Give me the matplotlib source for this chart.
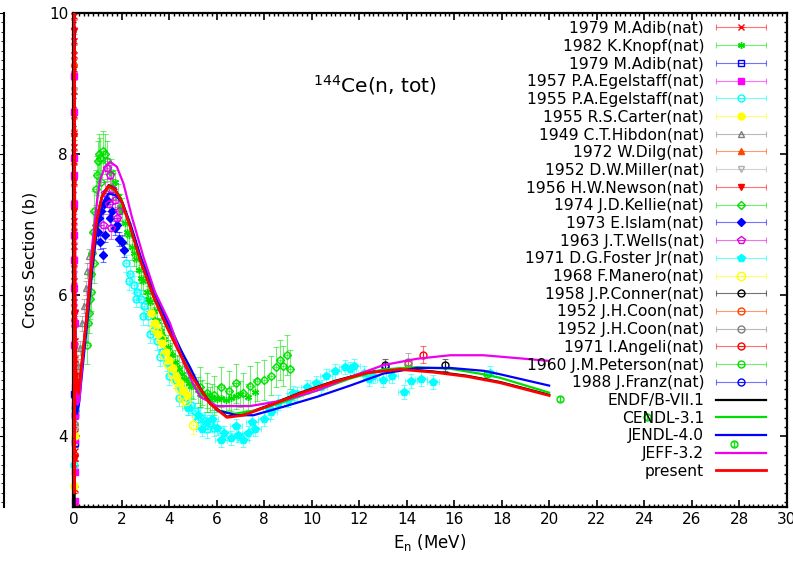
import numpy as np
import matplotlib
matplotlib.use("Agg")
import matplotlib.pyplot as plt
from matplotlib.ticker import MultipleLocator
from matplotlib.container import ErrorbarContainer
from matplotlib.legend_handler import HandlerErrorbar

plt.rcParams['font.family'] = ['DejaVu Sans']

# ---- evaluated curves (E in MeV, cross section in b) ----
E_endf = [0.0, 0.004, 0.008, 0.015, 0.03, 0.06, 0.11, 0.18, 0.32, 0.53, 0.74, 0.95, 1.17, 1.45, 1.73,
          2.01, 2.36, 2.78, 3.34, 3.90, 4.46, 4.88, 5.73, 6.43, 7.13, 8.11, 9.52, 10.92, 12.32, 13.73,
          15.13, 16.53, 17.94, 20.0]
xs_endf = [10.3, 3.0, 9.8, 4.2, 6.0, 5.0, 4.7, 4.62, 5.04, 5.70, 6.46, 7.07, 7.40, 7.56, 7.50,
           7.33, 6.98, 6.51, 5.99, 5.56, 5.18, 4.90, 4.47, 4.28, 4.31, 4.43, 4.62, 4.78, 4.91, 4.96,
           4.92, 4.86, 4.77, 4.59]

E_cendl = [0.0, 0.01, 0.03, 0.07, 0.13, 0.2, 0.33, 0.53, 0.74, 0.95, 1.17, 1.45, 1.73, 2.01, 2.36,
           2.78, 3.34, 4.04, 4.88, 5.4, 6.01, 6.71, 7.69, 8.81, 10.22, 11.62, 13.02, 14.43, 15.83,
           17.23, 17.94, 20.0]
xs_cendl = [9.6, 3.8, 5.4, 4.8, 4.6, 4.63, 5.05, 5.72, 6.47, 7.07, 7.40, 7.53, 7.48, 7.33, 6.99,
            6.53, 6.01, 5.57, 4.93, 4.62, 4.37, 4.32, 4.37, 4.49, 4.65, 4.82, 4.95, 4.98, 4.96,
            4.88, 4.83, 4.62]

E_jendl = [0.0, 0.01, 0.03, 0.06, 0.11, 0.2, 0.35, 0.55, 0.76, 0.97, 1.2, 1.45, 1.75, 2.05, 2.4,
           2.8, 3.36, 3.95, 4.5, 4.88, 5.4, 6.01, 6.85, 7.55, 8.81, 10.22, 11.62, 13.02, 14.43,
           15.83, 17.23, 17.94, 20.0]
xs_jendl = [9.8, 4.0, 5.2, 4.6, 4.32, 4.45, 4.95, 5.60, 6.35, 6.95, 7.30, 7.44, 7.42, 7.30, 6.98,
            6.55, 6.05, 5.60, 5.22, 4.98, 4.62, 4.37, 4.30, 4.30, 4.42, 4.56, 4.72, 4.89, 4.97,
            4.97, 4.93, 4.88, 4.72]

E_jeff = [0.0, 0.01, 0.03, 0.07, 0.14, 0.22, 0.36, 0.55, 0.76, 0.97, 1.09, 1.3, 1.52, 1.8, 2.08,
          2.43, 2.92, 3.4, 4.04, 4.6, 5.0, 5.31, 6.01, 7.41, 8.81, 10.22, 11.62, 13.02, 14.43,
          15.83, 17.23, 17.94, 20.0]
xs_jeff = [10.1, 3.5, 8.0, 5.0, 4.45, 4.5, 5.1, 5.85, 6.7, 7.35, 7.63, 7.82, 7.89, 7.82, 7.58,
           7.11, 6.54, 6.05, 5.60, 5.05, 4.75, 4.56, 4.43, 4.43, 4.51, 4.65, 4.84, 5.01, 5.10,
           5.15, 5.15, 5.13, 5.07]

E_present = [0.0, 0.005, 0.01, 0.02, 0.04, 0.08, 0.12, 0.18, 0.32, 0.53, 0.74, 0.95, 1.17, 1.45,
             1.73, 2.01, 2.36, 2.78, 3.34, 3.90, 4.46, 4.88, 5.73, 6.43, 7.13, 8.11, 9.52, 10.92,
             12.32, 13.73, 15.13, 16.53, 17.94, 20.0]
xs_present = [10.2, 3.2, 9.5, 6.8, 5.6, 4.95, 4.7, 4.61, 5.03, 5.69, 6.45, 7.06, 7.39, 7.55,
              7.49, 7.32, 6.97, 6.50, 5.98, 5.55, 5.17, 4.89, 4.46, 4.27, 4.30, 4.42, 4.61, 4.77,
              4.90, 4.95, 4.91, 4.85, 4.76, 4.58]

# ---- experimental data (EXFOR, natural Ce) ----
adib79a_E = [0.001, 0.002, 0.003, 0.004, 0.005, 0.006, 0.007, 0.008, 0.009, 0.010, 0.011, 0.012,
             0.013, 0.014, 0.015, 0.016, 0.018, 0.020, 0.022, 0.024, 0.026, 0.028, 0.030, 0.033,
             0.002, 0.005, 0.009, 0.013, 0.017, 0.021, 0.025, 0.029]
adib79a_xs = [9.95, 9.6, 9.2, 8.9, 8.55, 8.3, 7.9, 7.6, 7.3, 7.05, 6.7, 6.45, 6.2, 5.9, 5.6, 5.35,
              5.1, 4.85, 4.55, 4.3, 4.05, 3.8, 3.55, 3.25, 9.4, 8.1, 6.9, 5.7, 4.65, 4.15, 3.7, 3.05]

knopf82_E = [1.55, 1.7, 1.85, 2.0, 2.15, 2.3, 2.45, 2.6, 2.75, 2.9, 3.05, 3.2, 3.35, 3.5, 3.65,
             3.8, 3.95, 4.1, 4.25, 4.4, 4.55, 4.7, 4.85, 5.0, 5.2, 5.4, 5.6, 5.8, 6.0, 6.2, 6.4,
             6.6, 6.8, 7.0, 7.3, 7.6, 1.62, 1.92, 2.22, 2.52, 2.82, 3.12, 3.42, 3.72, 4.02, 4.32,
             4.62, 4.92, 5.3, 5.7]
knopf82_xs = [7.75, 7.6, 7.4, 7.2, 7.02, 6.85, 6.68, 6.52, 6.36, 6.2, 6.05, 5.9, 5.77, 5.63, 5.5,
              5.38, 5.26, 5.15, 5.05, 4.96, 4.88, 4.81, 4.76, 4.71, 4.66, 4.62, 4.58, 4.56, 4.53,
              4.55, 4.51, 4.54, 4.57, 4.6, 4.56, 4.63, 7.55, 7.25, 6.9, 6.6, 6.25, 5.95, 5.65,
              5.42, 5.18, 4.98, 4.82, 4.72, 4.6, 4.52]

adib79b_E = [0.012, 0.021, 0.029]
adib79b_xs = [4.6, 4.3, 3.9]

egel57_E = [0.002, 0.004, 0.006, 0.008, 0.010, 0.012, 0.015, 0.018, 0.021, 0.025, 0.028, 0.032,
            0.003, 0.009, 0.016, 0.023]
egel57_xs = [8.6, 7.95, 7.3, 6.85, 6.5, 6.1, 5.3, 4.7, 4.3, 3.95, 3.5, 3.08, 9.1, 7.7, 5.6, 4.45]

egel55_E = [0.008, 0.02, 2.2, 2.35, 2.5, 2.65, 2.8, 2.95, 3.1, 3.3, 3.5, 3.7, 3.9, 4.1, 4.3, 4.5,
            4.7, 4.9, 5.1, 5.3, 5.5, 5.7, 5.9, 2.3, 2.6, 2.9, 3.2, 3.6, 4.0, 4.4, 4.8, 5.2, 5.6]
egel55_xs = [3.6, 4.4, 6.45, 6.3, 6.15, 6.05, 5.95, 5.85, 5.7, 5.5, 5.35, 5.2, 5.05, 4.92, 4.8,
             4.68, 4.56, 4.45, 4.36, 4.28, 4.22, 4.18, 4.12, 6.2, 5.95, 5.7, 5.45, 5.12, 4.85, 4.55,
             4.42, 4.25, 4.1]

carter55_E = [0.006, 0.018, 3.25, 3.4, 3.55, 3.7, 3.85, 4.0, 4.15, 4.3, 4.45, 4.6, 4.75]
carter55_xs = [3.3, 4.0, 5.75, 5.6, 5.45, 5.32, 5.2, 5.08, 4.97, 4.86, 4.75, 4.66, 4.58]

hibdon49_E = [0.02, 0.06, 0.12, 0.18, 0.25, 0.32, 0.40, 0.48, 0.56, 0.64]
hibdon49_xs = [4.2, 4.4, 4.8, 5.0, 5.25, 5.6, 5.85, 6.1, 6.35, 6.55]

dilg72_E = [0.004, 0.012, 0.02]
dilg72_xs = [9.3, 5.8, 4.9]

miller52_E = [0.005, 0.014, 0.024]
miller52_xs = [8.9, 6.3, 4.1]

newson56_E = [0.003, 0.007, 0.011, 0.017, 0.023, 0.027]
newson56_xs = [9.75, 8.25, 7.2, 5.75, 4.85, 3.7]

kellie74_E = [0.55, 0.6, 0.65, 0.7, 0.75, 0.8, 0.85, 0.9, 0.95, 1.0, 1.05, 1.1, 1.2, 1.3, 1.4,
              5.3, 5.6, 5.9, 6.2, 6.5, 6.8, 7.1, 7.4, 7.7, 8.0, 8.3, 8.5, 8.65, 8.8, 8.95, 9.1,
              0.62, 0.72, 0.82, 0.92, 1.15]
kellie74_xs = [5.3, 5.6, 5.95, 6.3, 6.6, 6.9, 7.2, 7.5, 7.7, 7.9, 8.0, 7.95, 8.05, 8.0, 7.9,
               4.7, 4.62, 4.58, 4.7, 4.65, 4.75, 4.62, 4.72, 4.78, 4.8, 4.86, 4.98, 5.08, 5.0,
               5.15, 4.95, 5.75, 6.05, 6.45, 7.0, 7.6]

islam73_E = [1.0, 1.05, 1.1, 1.15, 1.2, 1.25, 1.3, 1.4, 1.5, 1.6, 1.7, 1.8, 1.9, 2.0, 2.1]
islam73_xs = [6.9, 7.1, 6.75, 7.2, 6.57, 7.3, 6.85, 7.35, 7.1, 7.2, 6.95, 7.0, 6.8, 6.75, 6.64]

wells63_E = [1.2, 1.3, 1.4, 1.45, 1.5, 1.55, 1.6, 1.7, 1.8, 1.9]
wells63_xs = [7.0, 7.45, 7.8, 7.3, 7.7, 6.95, 7.5, 7.35, 7.1, 7.2]

foster71_E = [4.8, 5.2, 5.6, 6.0, 6.3, 6.6, 6.9, 7.1, 7.3, 7.6, 8.0, 8.3, 8.6, 9.0, 9.4, 9.8,
              10.2, 10.6, 11.0, 11.4, 11.8, 12.2, 12.6, 13.0, 13.4, 13.87, 14.2, 14.6, 15.1,
              17.5, 5.4, 5.8, 6.2, 6.8, 7.5, 8.2, 9.2, 10.4, 11.6, 12.4]
foster71_xs = [4.4, 4.3, 4.2, 4.12, 4.05, 3.98, 4.02, 3.95, 4.05, 4.1, 4.25, 4.35, 4.48, 4.52,
               4.6, 4.7, 4.76, 4.85, 4.92, 4.98, 5.0, 4.9, 4.85, 4.8, 4.86, 4.63, 4.78, 4.82,
               4.77, 4.9, 4.1, 4.25, 3.95, 4.15, 4.2, 4.4, 4.62, 4.7, 4.95, 4.82]

manero68_E = [3.35, 3.5, 3.65, 3.8, 3.95, 4.1, 4.25, 4.4, 4.55, 4.7, 5.02]
manero68_xs = [5.55, 5.5, 5.38, 5.15, 5.02, 4.9, 4.8, 4.68, 4.55, 4.5, 4.16]

conner58_E = [13.09, 15.62]
conner58_xs = [5.01, 5.01]

coon52a_E = [14.06]
coon52a_xs = [5.02]

coon52b_E = [14.06]
coon52b_xs = [5.06]

angeli71_E = [14.68]
angeli71_xs = [5.16]

peterson60_E = [17.37, 20.46, 24.1, 27.8]
peterson60_xs = [4.89, 4.53, 4.27, 3.89]

franz88_E = [13.1]
franz88_xs = [4.98]

fig = plt.figure(figsize=(7.93, 5.63), dpi=100)
ax = fig.add_axes([0.092, 0.0995, 0.9, 0.8775])

# piece of the neighbouring panel on the left edge
ax0 = fig.add_axes([-0.3, 0.0995, 0.3055, 0.8775])
for s in ['left', 'top', 'bottom']:
    ax0.spines[s].set_visible(False)
ax0.spines['right'].set_linewidth(1.5)
ax0.set_ylim(3, 10)
ax0.yaxis.tick_right()
ax0.yaxis.set_major_locator(MultipleLocator(2))
ax0.yaxis.set_minor_locator(MultipleLocator(2 / 15))
ax0.tick_params(axis='y', which='both', direction='in', labelright=False)
ax0.tick_params(axis='y', which='minor', length=2.5)
ax0.set_xticks([])


def exp_set(x, y, color, marker, label, dx, dy, mfc=None, ms=5):
    ax.errorbar(x, y, xerr=dx, yerr=dy, fmt='', marker=marker,
                linestyle='none', color=color,
                mfc=color if mfc is None else mfc, mec=color, ms=ms,
                ecolor=matplotlib.colors.to_rgba(color, 0.55), elinewidth=0.8,
                capsize=2, capthick=0.8, label=label, clip_on=False, zorder=2)


exp_set(adib79a_E, adib79a_xs, 'red', 'x', '1979 M.Adib(nat)', 0.0, 0.05)
exp_set(knopf82_E, knopf82_xs, '#00e000', (6, 2, 0), '1982 K.Knopf(nat)', 0.08, 0.18)
exp_set(adib79b_E, adib79b_xs, 'blue', 's', '1979 M.Adib(nat)', 0.0, 0.05, mfc='none')
exp_set(egel57_E, egel57_xs, 'magenta', 's', '1957 P.A.Egelstaff(nat)', 0.0, 0.05)
exp_set(egel55_E, egel55_xs, 'cyan', 'o', '1955 P.A.Egelstaff(nat)', 0.1, 0.12, mfc='none')
exp_set(carter55_E, carter55_xs, 'yellow', 'o', '1955 R.S.Carter(nat)', 0.1, 0.12)
exp_set(hibdon49_E, hibdon49_xs, 'gray', '^', '1949 C.T.Hibdon(nat)', 0.03, 0.1, mfc='none')
exp_set(dilg72_E, dilg72_xs, '#ff4500', '^', '1972 W.Dilg(nat)', 0.0, 0.05)
exp_set(miller52_E, miller52_xs, '#b0b0b0', 'v', '1952 D.W.Miller(nat)', 0.0, 0.05, mfc='none')
exp_set(newson56_E, newson56_xs, 'red', 'v', '1956 H.W.Newson(nat)', 0.0, 0.05)
exp_set(kellie74_E, kellie74_xs, '#00e000', 'D', '1974 J.D.Kellie(nat)', 0.1, 0.28, mfc='none', ms=4)
exp_set(islam73_E, islam73_xs, 'blue', 'D', '1973 E.Islam(nat)', 0.04, 0.1, ms=4)
exp_set(wells63_E, wells63_xs, '#e000e0', 'p', '1963 J.T.Wells(nat)', 0.05, 0.15, mfc='none', ms=6)
exp_set(foster71_E, foster71_xs, 'cyan', 'p', '1971 D.G.Foster Jr(nat)', 0.25, 0.1, ms=6)
exp_set(manero68_E, manero68_xs, 'yellow', 'o', '1968 F.Manero(nat)', 0.1, 0.12, mfc='none', ms=6)
exp_set(conner58_E, conner58_xs, 'black', 'o', '1958 J.P.Conner(nat)', 0.0, 0.08, mfc='none')
exp_set(coon52a_E, coon52a_xs, '#ff4500', 'o', '1952 J.H.Coon(nat)', 0.0, 0.08, mfc='none')
exp_set(coon52b_E, coon52b_xs, 'gray', 'o', '1952 J.H.Coon(nat)', 0.0, 0.12, mfc='none')
exp_set(angeli71_E, angeli71_xs, 'red', 'o', '1971 I.Angeli(nat)', 0.0, 0.12, mfc='none')
exp_set(peterson60_E, peterson60_xs, '#00e000', 'o', '1960 J.M.Peterson(nat)', 0.0, 0.03, mfc='none')
exp_set(franz88_E, franz88_xs, 'blue', 'o', '1988 J.Franz(nat)', 0.0, 0.05, mfc='none')

ax.plot(E_endf, xs_endf, color='black', lw=1.6, label='ENDF/B-VII.1', zorder=3)
ax.plot(E_cendl, xs_cendl, color='#00dd00', lw=1.6, label='CENDL-3.1', zorder=3)
ax.plot(E_jendl, xs_jendl, color='blue', lw=1.6, label='JENDL-4.0', zorder=3)
ax.plot(E_jeff, xs_jeff, color='#ee00ee', lw=1.6, label='JEFF-3.2', zorder=3)
ax.plot(E_present, xs_present, color='red', lw=2.0, label='present', zorder=3)

ax.set_xlim(-0.05, 30)
ax.set_ylim(3, 10)
ax.xaxis.set_major_locator(MultipleLocator(2))
ax.xaxis.set_minor_locator(MultipleLocator(0.2))
ax.set_yticks([4, 6, 8, 10])
ax.yaxis.set_minor_locator(MultipleLocator(2 / 15))
ax.tick_params(which='both', direction='in', top=True, right=True, labelsize=11)
ax.tick_params(which='major', length=5, width=1.2)
ax.tick_params(which='minor', length=2.5, width=1.0)
for s in ax.spines.values():
    s.set_linewidth(1.6)

ax.set_xlabel('E$_\\mathregular{n}$ (MeV)', fontsize=12)
ax.set_ylabel('Cross Section (b)', fontsize=11.5, labelpad=8)
ax.text(0.423, 0.855, '$^\\mathregular{144}$Ce(n, tot)', transform=ax.transAxes,
        ha='center', va='center', fontsize=14.5)

# legend: measurements first, evaluations after
handles, labels = ax.get_legend_handles_labels()
handles = handles[5:] + handles[:5]
labels = labels[5:] + labels[:5]
leg = ax.legend(handles, labels, loc='upper right', bbox_to_anchor=(0.9706, 0.984),
                frameon=False, markerfirst=False, fontsize=11.2, handlelength=3.2,
                handletextpad=0.75, labelspacing=0.175, borderaxespad=0, borderpad=0,
                handler_map={ErrorbarContainer: HandlerErrorbar(xerr_size=1.6, yerr_size=0)})
for col in leg._legend_handle_box.get_children():
    col.align = 'right'
leg.set_zorder(5)

fig.savefig('out.png', dpi=100)
